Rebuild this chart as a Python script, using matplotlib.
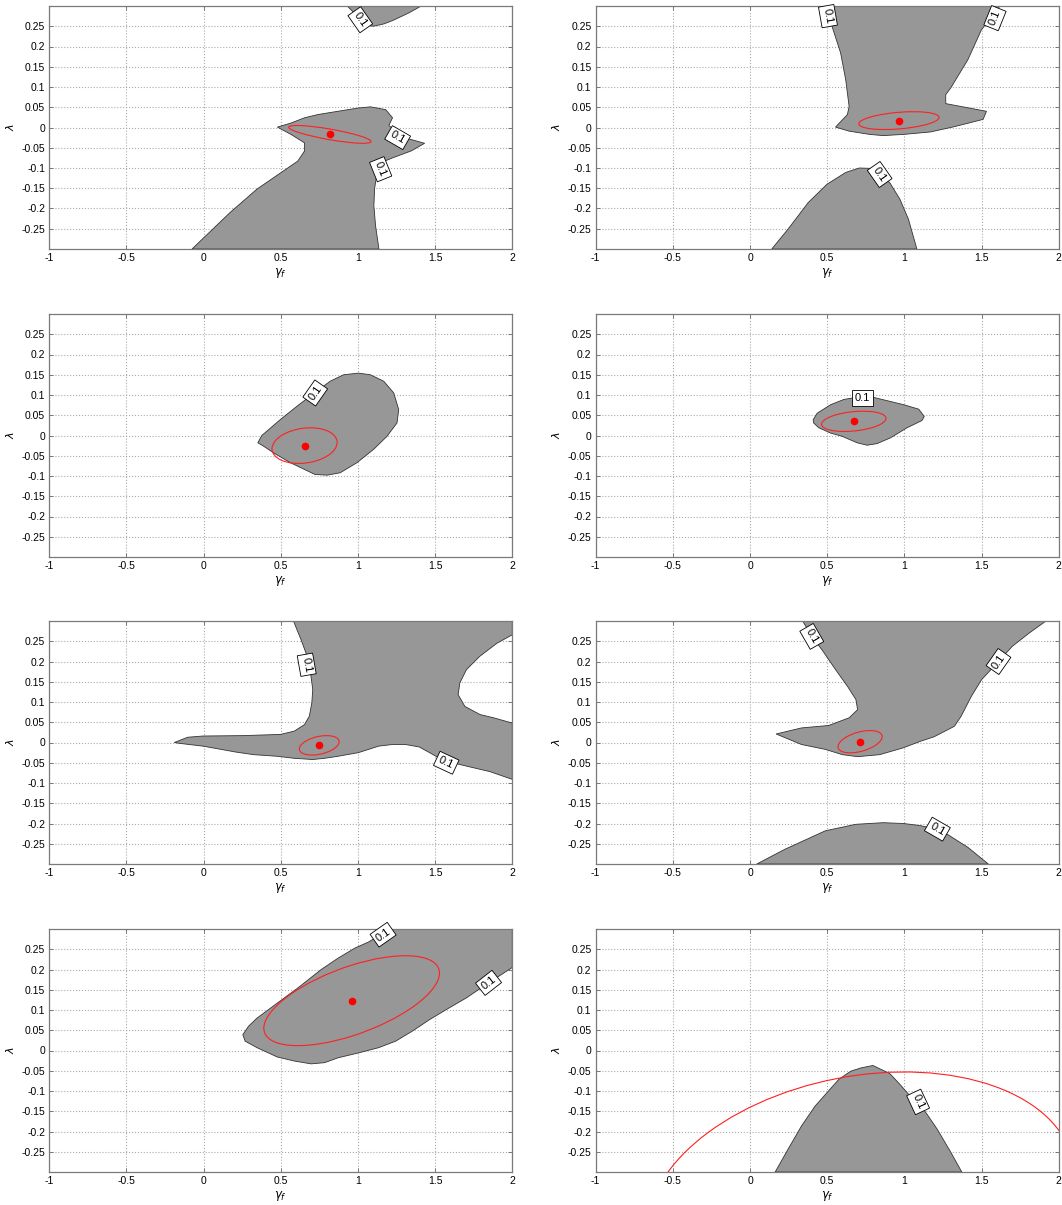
import numpy as np
import matplotlib
matplotlib.use('Agg')
import matplotlib.pyplot as plt
from matplotlib.patches import Ellipse

plt.rcParams['font.family'] = ['Liberation Sans', 'DejaVu Sans']
plt.rcParams['mathtext.fontset'] = 'dejavusans'

# axis ticks
x_ticks = [-1, -0.5, 0, 0.5, 1, 1.5, 2]
x_ticklabels = ['-1', '-0.5', '0', '0.5', '1', '1.5', '2']
y_ticks = [-0.25, -0.2, -0.15, -0.1, -0.05, 0, 0.05, 0.1, 0.15, 0.2, 0.25]
y_ticklabels = ['-0.25', '-0.2', '-0.15', '-0.1', '-0.05', '0',
                '0.05', '0.1', '0.15', '0.2', '0.25']

# 0.1-level regions (gamma_f, lambda)
p1a_x = [0.93, 0.97, 1.02, 1.06, 1.10, 1.17, 1.23, 1.33, 1.41]
p1a_y = [0.30, 0.285, 0.265, 0.252, 0.25, 0.256, 0.265, 0.283, 0.30]
p1b_x = [-0.075, 0.171, 0.346, 0.61, 0.654, 0.654, 0.566, 0.478, 0.566, 0.654, 0.741,
         0.87, 1.0, 1.081, 1.18, 1.224, 1.20, 1.30, 1.432, 1.344, 1.224, 1.16, 1.125,
         1.108, 1.103, 1.114, 1.136]
p1b_y = [-0.3, -0.21, -0.152, -0.083, -0.058, -0.038, -0.017, 0.001, 0.011, 0.024, 0.032,
         0.040, 0.048, 0.051, 0.044, 0.024, 0.005, -0.025, -0.039, -0.058, -0.075, -0.085,
         -0.110, -0.15, -0.193, -0.243, -0.3]

p2a_x = [0.462, 0.532, 0.587, 0.62, 0.642, 0.631, 0.554, 0.642, 0.774, 0.862, 0.996, 1.169,
         1.323, 1.51, 1.532, 1.268, 1.268, 1.301, 1.411, 1.499, 1.62]
p2a_y = [0.3, 0.249, 0.184, 0.118, 0.052, 0.032, 0.001, -0.009, -0.017, -0.02, -0.017, -0.011,
         0.002, 0.02, 0.04, 0.059, 0.081, 0.098, 0.167, 0.241, 0.3]
p2b_x = [0.141, 0.246, 0.378, 0.499, 0.62, 0.708, 0.785, 0.905, 0.971, 1.026, 1.081]
p2b_y = [-0.3, -0.251, -0.185, -0.14, -0.111, -0.1, -0.101, -0.136, -0.177, -0.226, -0.3]

p3_x = [0.351, 0.377, 0.496, 0.604, 0.70, 0.82, 0.907, 1.004, 1.08, 1.167, 1.232, 1.264,
        1.253, 1.188, 1.102, 0.994, 0.885, 0.80, 0.72, 0.66, 0.561, 0.454, 0.387]
p3_y = [-0.018, 0.0, 0.039, 0.072, 0.10, 0.134, 0.15, 0.154, 0.15, 0.134, 0.105, 0.064,
        0.031, -0.002, -0.034, -0.067, -0.092, -0.098, -0.096, -0.085, -0.067, -0.043, -0.026]

p4_x = [0.409, 0.435, 0.522, 0.608, 0.70, 0.78, 0.888, 0.996, 1.093, 1.129, 1.114, 1.017,
        0.909, 0.823, 0.759, 0.694, 0.597, 0.522, 0.446, 0.412]
p4_y = [0.039, 0.055, 0.076, 0.089, 0.095, 0.096, 0.086, 0.076, 0.065, 0.047, 0.037, 0.019,
        -0.006, -0.02, -0.024, -0.018, -0.002, 0.006, 0.019, 0.031]

p5_x = [-0.19, -0.103, -0.004, 0.258, 0.499, 0.587, 0.653, 0.685, 0.701, 0.707, 0.695, 0.663,
        0.631, 0.582, 2.0, 2.0, 1.9, 1.79, 1.703, 1.66, 1.649, 1.693, 1.791, 1.879, 2.0, 2.0,
        1.856, 1.70, 1.572, 1.506, 1.397, 1.309, 1.222, 1.134, 1.003, 0.871, 0.784, 0.707,
        0.587, 0.477, 0.324, 0.215, -0.004, -0.158]
p5_y = [0.0, 0.013, 0.016, 0.017, 0.02, 0.028, 0.044, 0.065, 0.098, 0.131, 0.165, 0.221,
        0.254, 0.3, 0.3, 0.266, 0.245, 0.213, 0.18, 0.147, 0.118, 0.089, 0.069, 0.061, 0.048,
        -0.091, -0.072, -0.058, -0.046, -0.034, -0.011, -0.005, -0.005, -0.009, -0.025, -0.034,
        -0.039, -0.042, -0.039, -0.034, -0.03, -0.024, -0.009, -0.002]

p6a_x = [0.341, 0.40, 0.466, 0.554, 0.631, 0.686, 0.697, 0.642, 0.51, 0.334, 0.169, 0.334,
         0.488, 0.598, 0.697, 0.84, 0.994, 1.104, 1.192, 1.324, 1.368, 1.434, 1.5, 1.61,
         1.698, 1.808, 1.918]
p6a_y = [0.3, 0.262, 0.229, 0.18, 0.139, 0.106, 0.081, 0.061, 0.042, 0.036, 0.021, -0.005,
         -0.017, -0.03, -0.035, -0.03, -0.013, 0.003, 0.014, 0.04, 0.065, 0.114, 0.155, 0.2,
         0.237, 0.27, 0.3]
p6b_x = [0.044, 0.224, 0.488, 0.686, 0.862, 0.994, 1.10, 1.214, 1.28, 1.412, 1.544]
p6b_y = [-0.3, -0.264, -0.218, -0.202, -0.198, -0.2, -0.205, -0.214, -0.227, -0.259, -0.3]

p7_x = [1.22, 1.12, 1.069, 0.981, 0.871, 0.762, 0.609, 0.477, 0.346, 0.291, 0.254, 0.269,
        0.346, 0.477, 0.587, 0.696, 0.784, 0.871, 1.003, 1.134, 1.244, 1.353, 1.463, 1.572,
        1.703, 1.846, 2.0, 2.0]
p7_y = [0.3, 0.28, 0.268, 0.253, 0.228, 0.2, 0.154, 0.117, 0.08, 0.06, 0.039, 0.023,
        0.007, -0.016, -0.026, -0.033, -0.03, -0.018, -0.006, 0.007, 0.023, 0.048, 0.076,
        0.101, 0.13, 0.167, 0.205, 0.3]

p8_x = [0.163, 0.246, 0.334, 0.422, 0.499, 0.576, 0.653, 0.719, 0.796, 0.84, 0.906, 0.972,
        1.027, 1.089, 1.148, 1.214, 1.302, 1.372]
p8_y = [-0.3, -0.244, -0.186, -0.137, -0.104, -0.071, -0.051, -0.043, -0.037, -0.045, -0.057,
        -0.084, -0.108, -0.127, -0.158, -0.195, -0.252, -0.3]

regions = [
    [(p1a_x, p1a_y), (p1b_x, p1b_y)],
    [(p2a_x, p2a_y), (p2b_x, p2b_y)],
    [(p3_x, p3_y)],
    [(p4_x, p4_y)],
    [(p5_x, p5_y)],
    [(p6a_x, p6a_y), (p6b_x, p6b_y)],
    [(p7_x, p7_y)],
    [(p8_x, p8_y)],
]

# contour labels: x, y, screen rotation
lab_x = [[1.015, 1.257, 1.147], [0.505, 1.587, 0.84], [0.723], [0.726],
         [0.668, 1.572], [0.40, 1.61, 1.214], [1.163, 1.846], [1.089]]
lab_y = [[0.266, -0.025, -0.103], [0.275, 0.27, -0.116], [0.105], [0.092],
         [0.192, -0.05], [0.262, 0.2, -0.214], [0.286, 0.167], [-0.127]]
lab_rot = [[-55, -30, -68], [-80, 68, -55], [55], [0],
           [-80, -25], [-60, 55, -30], [35, 38], [-65]]

# estimate and confidence ellipse (centre, half widths, correlation)
est_x = [0.818, 0.965, 0.654, 0.672, 0.749, 0.713, 0.959, 0.717]
est_y = [-0.017, 0.017, -0.025, 0.035, -0.007, 0.002, 0.123, -0.378]
ell_sx = [0.267, 0.26, 0.211, 0.209, 0.129, 0.143, 0.569, 1.385]
ell_sy = [0.022, 0.022, 0.044, 0.025, 0.024, 0.0275, 0.111, 0.325]
ell_rho = [-0.8, 0.36, 0.18, 0.29, 0.37, 0.45, 0.613, 0.204]

W, H = 1062, 1205
col_left = [49.3, 595.7]
row_top = [6, 314, 621, 929]
aw, ah = 463, 243

fig = plt.figure(figsize=(W / 100, H / 100), dpi=100)

for i in range(8):
    r, c = divmod(i, 2)
    ax = fig.add_axes([col_left[c] / W, 1 - (row_top[r] + ah) / H, aw / W, ah / H])

    for xs, ys in regions[i]:
        ax.fill(xs, ys, facecolor='#979797', edgecolor='#333333', linewidth=0.6, zorder=2)

    for lx, ly, lr in zip(lab_x[i], lab_y[i], lab_rot[i]):
        ax.text(lx, ly, '0.1', rotation=lr, rotation_mode='anchor', ha='center', va='center',
                fontsize=8, zorder=5,
                bbox=dict(boxstyle='square,pad=0.25', fc='white', ec='black', lw=0.6))

    sx, sy, rho = ell_sx[i], ell_sy[i], ell_rho[i]
    cov = np.array([[sx * sx, rho * sx * sy], [rho * sx * sy, sy * sy]])
    vals, vecs = np.linalg.eigh(cov)
    ang = np.degrees(np.arctan2(vecs[1, 1], vecs[0, 1]))
    ax.add_patch(Ellipse((est_x[i], est_y[i]), 2 * np.sqrt(vals[1]), 2 * np.sqrt(vals[0]),
                         angle=ang, fill=False, edgecolor='#ff2020', linewidth=0.8, zorder=4))
    ax.plot(est_x[i], est_y[i], 'o', color='red', markersize=4.5, zorder=6)

    ax.set_xlim(-1, 2)
    ax.set_ylim(-0.3, 0.3)
    ax.set_xticks(x_ticks)
    ax.set_xticklabels(x_ticklabels)
    ax.set_yticks(y_ticks)
    ax.set_yticklabels(y_ticklabels)
    ax.tick_params(direction='in', length=3, width=0.6, color='#666666', labelsize=7.5,
                   top=True, right=True, pad=3)
    ax.grid(True, linestyle=':', color='#aaaaaa', linewidth=0.8, zorder=1)
    ax.set_axisbelow(True)
    for s in ax.spines.values():
        s.set_color('#7a7a7a')
        s.set_linewidth(0.9)
    ax.set_xlabel(r'$\gamma_f$', fontsize=8.5, labelpad=2)
    ax.set_ylabel(r'$\lambda$', fontsize=8, labelpad=4)

fig.savefig('out.png', dpi=100)
